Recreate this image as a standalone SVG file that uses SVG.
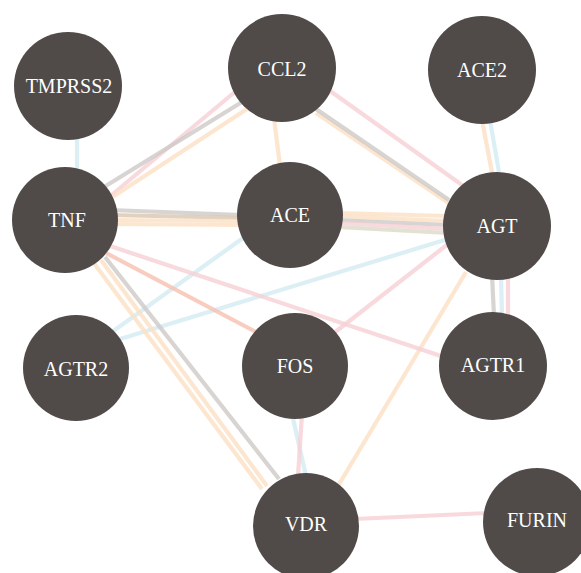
<svg xmlns="http://www.w3.org/2000/svg" width="581" height="573" viewBox="0 0 581 573">
  <style>
    .node circle { fill: #504b49; }
    .node text { fill: #ffffff; font-family: "Liberation Serif", "DejaVu Serif", serif; font-size: 20px; text-anchor: middle; }
    #edges line { stroke-width: 4.2; stroke-linecap: butt; fill: none; opacity: 0.8; }
    .pk { stroke: #f6cfd5; }
    .gy { stroke: #cdc9c7; }
    .og { stroke: #fde0c4; }
    .bl { stroke: #d3ebf1; }
    .sa { stroke: #f6c0b0; }
    .br { stroke: #d8c5b0; }
    .bg { stroke: #dcdac6; }
  </style>
  <rect width="581" height="573" fill="#ffffff"/>
  <g id="edges">
    <!-- TMPRSS2 - TNF -->
    <line class="bl" x1="77" y1="135" x2="77" y2="172"/>
    <!-- TNF - CCL2 -->
    <line class="pk" x1="108" y1="198" x2="236" y2="91"/>
    <line class="gy" x1="104" y1="187" x2="242" y2="102"/>
    <line class="og" x1="111" y1="198" x2="247" y2="109"/>
    <!-- CCL2 - ACE -->
    <line class="og" x1="274" y1="118" x2="280" y2="166"/>
    <!-- CCL2 - AGT -->
    <line class="pk" x1="326" y1="88" x2="462" y2="185"/>
    <line class="og" x1="316" y1="113" x2="450" y2="204"/>
    <line class="gy" x1="316" y1="109" x2="449" y2="200"/>
    <!-- ACE2 - AGT -->
    <line class="og" x1="482" y1="120" x2="493" y2="178"/>
    <line class="bl" x1="490" y1="120" x2="500" y2="178"/>
    <!-- TNF - ACE -->
    <line class="gy" x1="110" y1="210" x2="242" y2="215"/>
    <line class="br" x1="110" y1="215" x2="242" y2="218"/>
    <line class="og" x1="110" y1="220" x2="242" y2="221"/>
    <line class="og" x1="110" y1="224" x2="242" y2="225"/>
    <!-- ACE - AGT -->
    <line class="og" x1="338" y1="213" x2="448" y2="216"/>
    <line class="og" x1="338" y1="216" x2="448" y2="221"/>
    <line class="gy" x1="338" y1="220" x2="448" y2="225"/>
    <line class="pk" x1="338" y1="223" x2="448" y2="229"/>
    <line class="bg" x1="338" y1="227" x2="448" y2="233"/>
    <!-- AGTR2 - AGT -->
    <line class="bl" x1="120" y1="339" x2="448" y2="239"/>
    <!-- AGTR2 - ACE -->
    <line class="bl" x1="112" y1="332" x2="250" y2="233"/>
    <!-- AGT - FOS -->
    <line class="pk" x1="448" y1="244" x2="334" y2="333"/>
    <!-- AGT - VDR -->
    <line class="og" x1="466" y1="272" x2="338" y2="486"/>
    <!-- AGT - AGTR1 -->
    <line class="gy" x1="492" y1="275" x2="494" y2="316"/>
    <line class="bl" x1="501" y1="275" x2="502" y2="316"/>
    <line class="pk" x1="508" y1="275" x2="508" y2="316"/>
    <!-- TNF - AGTR1 -->
    <line class="pk" x1="110" y1="246" x2="444" y2="357"/>
    <!-- TNF - FOS -->
    <line class="sa" x1="106" y1="253" x2="256" y2="332"/>
    <!-- TNF - VDR -->
    <line class="og" x1="93" y1="262" x2="262" y2="489"/>
    <line class="og" x1="101" y1="260" x2="267" y2="486"/>
    <line class="gy" x1="105" y1="257" x2="279" y2="479"/>
    <!-- FOS - VDR -->
    <line class="bl" x1="292" y1="414" x2="306" y2="476"/>
    <line class="pk" x1="302" y1="414" x2="298" y2="476"/>
    <!-- VDR - FURIN -->
    <line class="pk" x1="354" y1="519" x2="488" y2="513"/>
  </g>
  <g id="TMPRSS2" class="node"><circle cx="68" cy="86" r="54"/><text x="69" y="93">TMPRSS2</text></g>
  <g id="CCL2" class="node"><circle cx="282" cy="68" r="54"/><text x="282" y="76">CCL2</text></g>
  <g id="ACE2" class="node"><circle cx="482" cy="70" r="54"/><text x="482" y="77">ACE2</text></g>
  <g id="TNF" class="node"><circle cx="65" cy="220" r="53"/><text x="67" y="227">TNF</text></g>
  <g id="ACE" class="node"><circle cx="290" cy="215" r="53"/><text x="290" y="222">ACE</text></g>
  <g id="AGT" class="node"><circle cx="497" cy="226" r="54"/><text x="497" y="233">AGT</text></g>
  <g id="AGTR2" class="node"><circle cx="76" cy="368" r="53"/><text x="76" y="376">AGTR2</text></g>
  <g id="FOS" class="node"><circle cx="295" cy="366" r="53"/><text x="295" y="373">FOS</text></g>
  <g id="AGTR1" class="node"><circle cx="493" cy="366" r="54"/><text x="493" y="372">AGTR1</text></g>
  <g id="VDR" class="node"><circle cx="306" cy="526" r="53"/><text x="306" y="531">VDR</text></g>
  <g id="FURIN" class="node"><circle cx="537" cy="522" r="54"/><text x="537" y="527">FURIN</text></g>
</svg>
